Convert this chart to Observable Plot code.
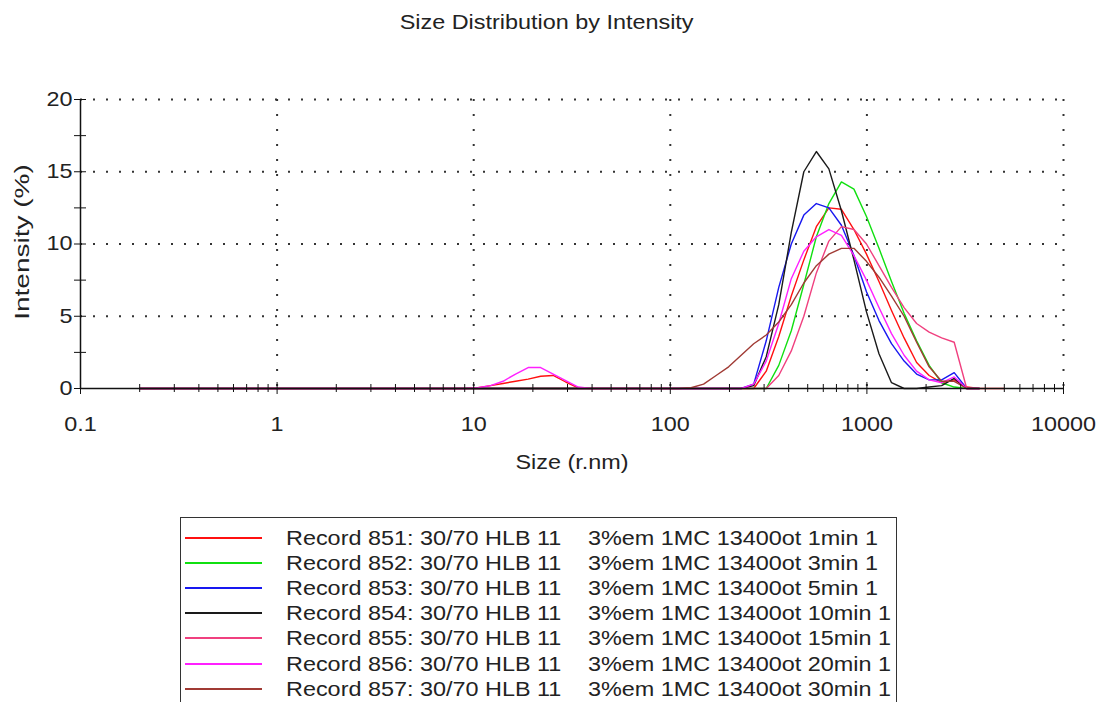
<!DOCTYPE html>
<html><head><meta charset="utf-8">
<script src="https://cdn.jsdelivr.net/npm/d3@7"></script>
<script src="https://cdn.jsdelivr.net/npm/@observablehq/plot@0.6"></script>
<style>
body{margin:0;background:#fff;width:1104px;height:702px;overflow:hidden;position:relative;font-family:"Liberation Sans",Arial,sans-serif;color:#222}
#title{position:absolute;top:10px;left:0;width:1093px;text-align:center;font-size:20px;line-height:24px}
#title span{display:inline-block;transform:scaleX(1.17)}
#chart{position:absolute;top:50px;left:0}
#legend{position:absolute;left:180px;top:517px;width:717px;height:200px;border:1.5px solid #333;box-sizing:border-box}
.sw{position:absolute;left:4px;width:77px;height:2px}
.tx{position:absolute;font-size:20px;line-height:22px;white-space:nowrap;transform:scaleX(1.17);transform-origin:left center}
</style></head>
<body>
<div id="title"><span>Size Distribution by Intensity</span></div>
<div id="chart"></div>
<div id="legend"></div>
<script>
// Size bins (radius, nm)
const sizes = [0.2,0.2316,0.2683,0.3107,0.3598,0.4166,0.4825,0.5587,0.647,0.7493,
  0.8677,1.005,1.164,1.348,1.561,1.807,2.093,2.424,2.807,3.251,
  3.765,4.36,5.05,5.848,6.772,7.843,9.083,10.52,12.18,14.1,
  16.33,18.92,21.91,25.37,29.38,34.03,39.41,45.64,52.85,61.21,
  70.89,82.09,95.07,110.1,127.5,147.7,171,198,229.3,265.6,
  307.6,356.2,412.5,477.7,553.2,640.6,741.9,859.2,995,1152,
  1334,1546,1790,2073,2400,2780,3219,3728,4318,5000];

const records = ["851","852","853","854","855","856","857"];
const colors = ["#ff1010","#10e010","#1818f0","#1a1a1a","#f0407f","#ff20ff","#a03a34"];
const legendLeft = ["Record 851: 30/70 HLB 11","Record 852: 30/70 HLB 11","Record 853: 30/70 HLB 11","Record 854: 30/70 HLB 11","Record 855: 30/70 HLB 11","Record 856: 30/70 HLB 11","Record 857: 30/70 HLB 11"];
const legendRight = ["3%em 1MC 13400ot 1min 1","3%em 1MC 13400ot 3min 1","3%em 1MC 13400ot 5min 1","3%em 1MC 13400ot 10min 1","3%em 1MC 13400ot 15min 1","3%em 1MC 13400ot 20min 1","3%em 1MC 13400ot 30min 1"];

const rec851 = [0,0,0,0,0,0,0,0,0,0,
  0,0,0,0,0,0,0,0,0,0,
  0,0,0,0,0,0,0,0.05,0.2,0.35,
  0.5,0.65,0.85,0.9,0.45,0.05,0,0,0,0,
  0,0,0,0,0,0,0,0,0,0,
  1.2,3.6,6.4,8.9,11.2,12.5,12.4,11.0,9.3,7.4,
  5.4,3.5,1.8,0.9,0.4,0.6,0.1,0,0,0];
const rec852 = [0,0,0,0,0,0,0,0,0,0,
  0,0,0,0,0,0,0,0,0,0,
  0,0,0,0,0,0,0,0,0,0,
  0,0,0,0,0,0,0,0,0,0,
  0,0,0,0,0,0,0,0,0,0,
  0,1.6,4.0,7.2,10.5,12.8,14.3,13.8,11.9,9.7,
  7.4,5.2,3.3,1.6,0.4,0.1,0,0];
const rec853 = [0,0,0,0,0,0,0,0,0,0,
  0,0,0,0,0,0,0,0,0,0,
  0,0,0,0,0,0,0,0,0,0,
  0,0,0,0,0,0,0,0,0,0,
  0,0,0,0,0,0,0,0,0,0.3,
  3.3,7.0,10.0,12.0,12.8,12.5,11.3,9.2,6.7,4.7,
  3.1,1.9,1.0,0.6,0.6,1.1,0,0];
const rec854 = [0,0,0,0,0,0,0,0,0,0,
  0,0,0,0,0,0,0,0,0,0,
  0,0,0,0,0,0,0,0,0,0,
  0,0,0,0,0,0,0,0,0,0,
  0,0,0,0,0,0,0,0,0,0.2,
  2.2,5.8,10.8,15.0,16.4,15.2,12.3,8.9,5.3,2.4,
  0.4,0,0,0.1,0.2,0.7,0,0];
const rec855 = [0,0,0,0,0,0,0,0,0,0,
  0,0,0,0,0,0,0,0,0,0,
  0,0,0,0,0,0,0,0,0,0,
  0,0,0,0,0,0,0,0,0,0,
  0,0,0,0,0,0,0,0,0,0,
  0,0.9,2.6,5.0,8.0,10.2,11.2,11.0,10.0,8.5,
  7.0,5.6,4.5,3.9,3.5,3.2,0,0];
const rec856 = [0,0,0,0,0,0,0,0,0,0,
  0,0,0,0,0,0,0,0,0,0,
  0,0,0,0,0,0,0,0.05,0.2,0.5,
  1.0,1.45,1.45,1.0,0.55,0.1,0,0,0,0,
  0,0,0,0,0,0,0,0,0,0.3,
  1.9,4.5,7.6,9.5,10.5,11.0,10.6,9.2,7.5,5.6,
  3.8,2.3,1.2,0.6,0.4,0.8,0,0];
const rec857 = [0,0,0,0,0,0,0,0,0,0,
  0,0,0,0,0,0,0,0,0,0,
  0,0,0,0,0,0,0,0,0,0,
  0,0,0,0,0,0,0,0,0,0,
  0,0,0,0,0.05,0.3,0.9,1.5,2.3,3.1,
  3.7,4.6,5.8,7.3,8.5,9.3,9.7,9.7,8.8,7.7,
  6.4,5.0,3.2,1.5,0.5,0.5,0,0];

const seriesValues = [rec851, rec852, rec853, rec854, rec855, rec856, rec857];

const xMajor = [0.1,1,10,100,1000,10000];
const xMinor = [0.2,0.3,0.4,0.5,0.6,0.7,0.8,0.9,2,3,4,5,6,7,8,9,20,30,40,50,60,70,80,90,200,300,400,500,600,700,800,900,2000,3000,4000,5000,6000,7000,8000,9000];
const xGrid = [1,10,100,1000,10000];
const yMajor = [0,5,10,15,20];
const yMinor = [2.5,7.5,12.5,17.5];
const yGrid = [5,10,15,20];

const rows = [];
seriesValues.forEach((vals, k) => vals.forEach((v, i) => rows.push({size: sizes[i], value: v, record: records[k]})));

const chart = Plot.plot({
  width: 1104, height: 440,
  marginLeft: 80, marginRight: 41, marginTop: 49, marginBottom: 102,
  style: {fontFamily: "'Liberation Sans', Arial, sans-serif", fontSize: "20px", color: "#222", background: "white"},
  x: {type: "log", domain: [0.1, 10000]},
  y: {domain: [0, 20]},
  color: {domain: records, range: colors},
  marks: [
    Plot.ruleY(yGrid, {stroke: "#333", strokeWidth: 2, strokeDasharray: "2,11"}),
    Plot.ruleX(xGrid, {stroke: "#333", strokeWidth: 2, strokeDasharray: "2,13"}),
    Plot.line(rows, {x: "size", y: "value", z: "record", stroke: "record", strokeWidth: 1.4}),
    Plot.ruleX([0.1], {stroke: "#111", strokeWidth: 1.5}),
    Plot.ruleY([0], {stroke: "#111", strokeWidth: 1.5}),
    Plot.axisY({ticks: yMajor.concat(yMinor), tickSize: 12, dx: 6, text: null, label: null, stroke: "#111"}),
    Plot.axisY({ticks: yMajor, tickSize: 0, tickPadding: 8, label: null, fontSize: 20}),
    Plot.axisX({ticks: xMajor, tickSize: 12, dy: -6, text: null, label: null, stroke: "#111"}),
    Plot.axisX({ticks: xMinor, tickSize: 8, dy: -4, text: null, label: null, stroke: "#111"}),
    Plot.axisX({ticks: xMajor, tickSize: 0, tickPadding: 28, label: null, fontSize: 20, tickFormat: d => String(d)}),
    Plot.text(["Size (r.nm)"], {frameAnchor: "bottom", dy: 80, text: d => d, fontSize: 20, fill: "#222"}),
    Plot.text(["Intensity (%)"], {frameAnchor: "left", dx: -58, dy: -2, rotate: -90, textAnchor: "middle", text: d => d, fontSize: 20, fill: "#222"})
  ]
});
document.getElementById("chart").appendChild(chart);

// widen glyphs like the reference
chart.querySelectorAll("text").forEach(t => {
  const s = t.textContent === "Intensity (%)" ? " scale(1.4,1)" : " scale(1.17,1)";
  const tr = t.getAttribute("transform");
  if (tr) t.setAttribute("transform", tr + s);
  else {
    const x = parseFloat(t.getAttribute("x")), y = parseFloat(t.getAttribute("y"));
    if (!isNaN(x) && !isNaN(y)) {
      t.removeAttribute("x"); t.removeAttribute("y");
      t.setAttribute("transform", `translate(${x},${y})` + s);
    }
  }
});

// legend
const lg = document.getElementById("legend");
records.forEach((r, i) => {
  const cy = 19.5 + 25.2 * i;
  const sw = document.createElement("div");
  sw.className = "sw"; sw.style.top = Math.round(cy - 1) + "px"; sw.style.background = colors[i];
  lg.appendChild(sw);
  const t1 = document.createElement("div");
  t1.className = "tx"; t1.style.left = "105px"; t1.style.top = (cy - 11) + "px"; t1.textContent = legendLeft[i];
  lg.appendChild(t1);
  const t2 = document.createElement("div");
  t2.className = "tx"; t2.style.left = "407px"; t2.style.top = (cy - 11) + "px"; t2.textContent = legendRight[i];
  lg.appendChild(t2);
});
</script>
</body></html>
